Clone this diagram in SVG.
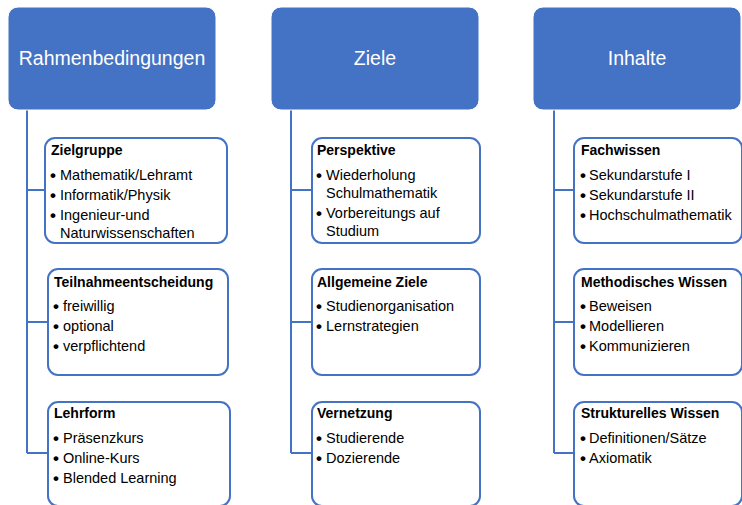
<svg xmlns="http://www.w3.org/2000/svg" width="742" height="505" viewBox="0 0 742 505">
<style>
.hdr{fill:#4472C4;stroke:#ffffff;stroke-width:1}
.hdrt{fill:#ffffff;font-family:"Liberation Sans",Arial,sans-serif;font-size:19.5px;text-anchor:middle}
.box{fill:#ffffff;stroke:#4472C4;stroke-width:2}
.ttl{fill:#000000;font-family:"Liberation Sans",Arial,sans-serif;font-size:14px;font-weight:bold}
.itm{fill:#000000;font-family:"Liberation Sans",Arial,sans-serif;font-size:14.5px}
.bul{fill:#000000;font-family:"Liberation Sans",Arial,sans-serif;font-size:17px;font-weight:bold}
.con{fill:none;stroke:#4472C4;stroke-width:2}
</style>
<rect width="742" height="505" fill="#ffffff"/>
<g id="connectors">
<path class="con" d="M27,110 V453 M27,190 H45 M27,322 H48 M27,453 H48"/>
<path class="con" d="M291,110 V453 M291,190 H312 M291,322 H312 M291,453 H312"/>
<path class="con" d="M554,110 V453 M554,190 H574 M554,322 H574 M554,453 H574"/>
</g>
<g id="h1"><rect class="hdr" x="8" y="7" width="208" height="103" rx="10"/><text class="hdrt" x="112" y="65">Rahmenbedingungen</text></g>
<g id="h2"><rect class="hdr" x="271" y="7" width="208" height="103" rx="10"/><text class="hdrt" x="375" y="65">Ziele</text></g>
<g id="h3"><rect class="hdr" x="533" y="7" width="208" height="103" rx="10"/><text class="hdrt" x="637" y="65">Inhalte</text></g>

<g id="zielgruppe"><rect class="box" x="45" y="138" width="182" height="105" rx="10"/>
<text class="ttl" x="51" y="155">Zielgruppe</text>
<text class="bul" x="50" y="181">•</text><text class="itm" x="60" y="180">Mathematik/Lehramt</text>
<text class="bul" x="50" y="201">•</text><text class="itm" x="60" y="200">Informatik/Physik</text>
<text class="bul" x="50" y="221">•</text><text class="itm" x="60" y="220">Ingenieur-und</text>
<text class="itm" x="60" y="238">Naturwissenschaften</text></g>

<g id="teilnahme"><rect class="box" x="48" y="269" width="180" height="106" rx="10"/>
<text class="ttl" x="54" y="287">Teilnahmeentscheidung</text>
<text class="bul" x="53" y="312">•</text><text class="itm" x="63" y="311">freiwillig</text>
<text class="bul" x="53" y="332">•</text><text class="itm" x="63" y="331">optional</text>
<text class="bul" x="53" y="352">•</text><text class="itm" x="63" y="351">verpflichtend</text></g>

<g id="lehrform"><rect class="box" x="48" y="402" width="182" height="104" rx="10"/>
<text class="ttl" x="54" y="418">Lehrform</text>
<text class="bul" x="53" y="444">•</text><text class="itm" x="63" y="443">Präsenzkurs</text>
<text class="bul" x="53" y="464">•</text><text class="itm" x="63" y="463">Online-Kurs</text>
<text class="bul" x="53" y="484">•</text><text class="itm" x="63" y="483">Blended Learning</text></g>

<g id="perspektive"><rect class="box" x="312" y="138" width="168" height="105" rx="10"/>
<text class="ttl" x="317" y="155">Perspektive</text>
<text class="bul" x="316" y="181">•</text><text class="itm" x="326" y="180">Wiederholung</text>
<text class="itm" x="326" y="198">Schulmathematik</text>
<text class="bul" x="316" y="219">•</text><text class="itm" x="326" y="218">Vorbereitungs auf</text>
<text class="itm" x="326" y="236">Studium</text></g>

<g id="allgemeine"><rect class="box" x="312" y="269" width="168" height="106" rx="10"/>
<text class="ttl" x="317" y="287">Allgemeine Ziele</text>
<text class="bul" x="316" y="312">•</text><text class="itm" x="326" y="311">Studienorganisation</text>
<text class="bul" x="316" y="332">•</text><text class="itm" x="326" y="331">Lernstrategien</text></g>

<g id="vernetzung"><rect class="box" x="312" y="402" width="168" height="104" rx="10"/>
<text class="ttl" x="317" y="418">Vernetzung</text>
<text class="bul" x="316" y="444">•</text><text class="itm" x="326" y="443">Studierende</text>
<text class="bul" x="316" y="464">•</text><text class="itm" x="326" y="463">Dozierende</text></g>

<g id="fachwissen"><rect class="box" x="574" y="138" width="168" height="105" rx="10"/>
<text class="ttl" x="581" y="155">Fachwissen</text>
<text class="bul" x="580" y="181">•</text><text class="itm" x="589" y="180">Sekundarstufe I</text>
<text class="bul" x="580" y="201">•</text><text class="itm" x="589" y="200">Sekundarstufe II</text>
<text class="bul" x="580" y="221">•</text><text class="itm" x="589" y="220">Hochschulmathematik</text></g>

<g id="methodisch"><rect class="box" x="574" y="269" width="168" height="106" rx="10"/>
<text class="ttl" x="581" y="287">Methodisches Wissen</text>
<text class="bul" x="580" y="312">•</text><text class="itm" x="589" y="311">Beweisen</text>
<text class="bul" x="580" y="332">•</text><text class="itm" x="589" y="331">Modellieren</text>
<text class="bul" x="580" y="352">•</text><text class="itm" x="589" y="351">Kommunizieren</text></g>

<g id="strukturell"><rect class="box" x="574" y="402" width="168" height="104" rx="10"/>
<text class="ttl" x="581" y="418">Strukturelles Wissen</text>
<text class="bul" x="580" y="444">•</text><text class="itm" x="589" y="443">Definitionen/Sätze</text>
<text class="bul" x="580" y="464">•</text><text class="itm" x="589" y="463">Axiomatik</text></g>
</svg>
